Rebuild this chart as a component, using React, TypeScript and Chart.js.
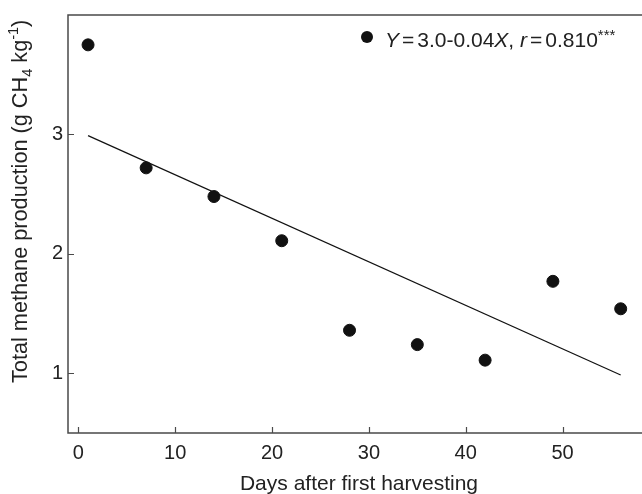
import React, { useEffect, useRef } from "react";
import { Chart, registerables } from "chart.js";

Chart.register(...registerables);

const days = [1, 7, 14, 21, 28, 35, 42, 49, 56];
const methane = [3.75, 2.72, 2.48, 2.11, 1.36, 1.24, 1.11, 1.77, 1.54];
const fitDays = [1, 56];
const fitValues = [2.99, 0.985];
const xTickValues = [0, 10, 20, 30, 40, 50];
const yTickValues = [1, 2, 3];
const xTitle = "Days after first harvesting";

const FONT = '"Liberation Sans", Arial, Helvetica, sans-serif';
const TEXT = "#222222";
const AXIS = "#4a4a4a";

const decorPlugin = {
  id: "decor",
  beforeDatasetsDraw(chart: any) {
    const ctx = chart.ctx;
    const { left, top, bottom } = chart.chartArea;
    const W = chart.width;
    const xs = chart.scales.x;
    const ys = chart.scales.y;
    ctx.save();
    ctx.strokeStyle = AXIS;
    ctx.lineWidth = 1.5;
    ctx.beginPath();
    ctx.moveTo(W + 2, top);
    ctx.lineTo(left, top);
    ctx.lineTo(left, bottom);
    ctx.lineTo(W + 2, bottom);
    ctx.stroke();
    ctx.lineWidth = 1.2;
    ctx.beginPath();
    xTickValues.forEach((v) => {
      const px = Math.round(xs.getPixelForValue(v)) + 0.5;
      ctx.moveTo(px, bottom);
      ctx.lineTo(px, bottom - 6);
    });
    yTickValues.forEach((v) => {
      const py = Math.round(ys.getPixelForValue(v)) + 0.5;
      ctx.moveTo(left, py);
      ctx.lineTo(left + 6, py);
    });
    ctx.stroke();
    ctx.restore();
  },
  afterDraw(chart: any) {
    const ctx = chart.ctx;
    const { left, top } = chart.chartArea;
    const right = chart.width;
    ctx.save();
    ctx.fillStyle = TEXT;
    ctx.textBaseline = "alphabetic";

    // x axis title
    ctx.font = `21px ${FONT}`;
    ctx.textAlign = "center";
    ctx.fillText(xTitle, (left + right) / 2 + 4, 490);

    // y axis title (rotated), with subscript and superscript
    ctx.save();
    ctx.translate(27, 383);
    ctx.rotate(-Math.PI / 2);
    ctx.textAlign = "left";
    let cx = 0;
    const parts: [string, string, number][] = [
      ["Total methane production (g CH", "n", 0],
      ["4", "s", 5],
      [" kg", "n", 0],
      ["-1", "s", -9],
      [")", "n", 0],
    ];
    parts.forEach(([t, kind, dy]) => {
      ctx.font = kind === "n" ? `21.7px ${FONT}` : `14.5px ${FONT}`;
      ctx.fillText(t, cx, dy);
      cx += ctx.measureText(t).width;
    });
    ctx.restore();

    // legend
    const dotX = right - 275;
    const dotY = top + 22;
    ctx.fillStyle = "#111111";
    ctx.beginPath();
    ctx.arc(dotX, dotY, 6, 0, Math.PI * 2);
    ctx.fill();
    ctx.fillStyle = TEXT;
    ctx.textAlign = "left";
    const base = top + 32;
    let lx = dotX + 18;
    const legParts: [string, string][] = [
      ["Y", "i"],
      ["=", "n"],
      ["3.0-0.04", "n"],
      ["X", "i"],
      [", ", "n"],
      ["r", "i"],
      ["=", "n"],
      ["0.810", "n"],
      ["***", "s"],
    ];
    legParts.forEach(([t, kind]) => {
      let dy = 0;
      if (kind === "i") ctx.font = `italic 21px ${FONT}`;
      else if (kind === "s") {
        ctx.font = `15px ${FONT}`;
        dy = -7;
      } else ctx.font = `21px ${FONT}`;
      if (t === "=") lx += 3;
      ctx.fillText(t, lx, base + dy);
      lx += ctx.measureText(t).width;
      if (t === "=") lx += 3;
    });
    ctx.restore();
  },
};

export default function App() {
  const ref = useRef<HTMLCanvasElement | null>(null);
  useEffect(() => {
    if (!ref.current) return;
    const chart = new Chart(ref.current, {
      type: "scatter",
      data: {
        datasets: [
          {
            label: "Total methane production",
            data: days.map((d, i) => ({ x: d, y: methane[i] })),
            backgroundColor: "#111111",
            borderColor: "#111111",
            pointRadius: 6,
            pointHoverRadius: 6,
          },
          {
            label: "Fit",
            data: fitDays.map((d, i) => ({ x: d, y: fitValues[i] })),
            showLine: true,
            borderColor: "#111111",
            borderWidth: 1.2,
            pointRadius: 0,
            fill: false,
          },
        ],
      },
      options: {
        animation: false,
        responsive: false,
        devicePixelRatio: 1,
        layout: { autoPadding: false, padding: { top: 15, left: 0, right: 0, bottom: 0 } },
        plugins: {
          legend: { display: false },
          tooltip: { enabled: false },
          title: { display: false },
        },
        scales: {
          x: {
            type: "linear",
            min: -1.07,
            max: 58.2,
            grid: { display: false, drawTicks: false },
            border: { display: false },
            afterBuildTicks: (scale: any) => {
              scale.ticks = xTickValues.map((v) => ({ value: v }));
            },
            afterFit: (scale: any) => {
              scale.height = 61;
              scale.paddingLeft = 0;
              scale.paddingRight = 0;
            },
            ticks: {
              padding: 8,
              color: TEXT,
              font: { size: 20, family: FONT },
              maxRotation: 0,
            },
          },
          y: {
            type: "linear",
            min: 0.5,
            max: 4.0,
            grid: { display: false, drawTicks: false },
            border: { display: false },
            afterBuildTicks: (scale: any) => {
              scale.ticks = yTickValues.map((v) => ({ value: v }));
            },
            afterFit: (scale: any) => {
              scale.width = 68;
              scale.paddingTop = 0;
              scale.paddingBottom = 0;
            },
            ticks: {
              padding: 5,
              color: TEXT,
              font: { size: 20, family: FONT },
            },
          },
        },
      },
      plugins: [decorPlugin],
    });
    return () => chart.destroy();
  }, []);
  return (
    <div style={{ position: "absolute", left: 0, top: 0, width: 642, height: 494, background: "#fff" }}>
      <canvas ref={ref} width={642} height={494} style={{ width: 642, height: 494, display: "block" }} />
    </div>
  );
}
